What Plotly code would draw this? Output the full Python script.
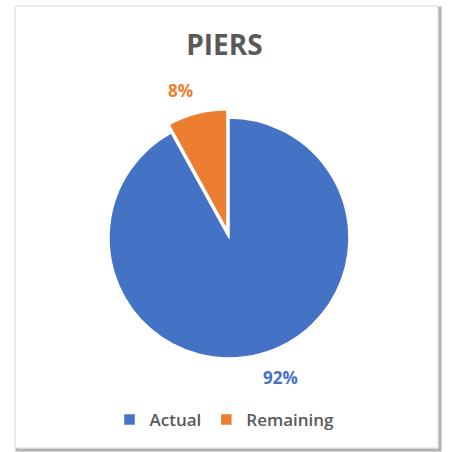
import math
import plotly.graph_objects as go

categories = ["Actual", "Remaining"]
values = [92, 8]
colors = ["#4472C4", "#ED7D31"]
pulls = [0, 0.07]
title_text = "PIERS"

W, H = 449, 452
cx, cy, r = 229, 238, 120
half = r * (1 + max(pulls))

fig = go.Figure(go.Pie(
    labels=categories,
    values=values,
    sort=False,
    direction="clockwise",
    rotation=0,
    pull=pulls,
    marker=dict(colors=colors, line=dict(color="white", width=1.5)),
    textinfo="none",
    hoverinfo="label+percent",
    domain=dict(x=[(cx - half) / W, (cx + half) / W],
                y=[(H - cy - half) / H, (H - cy + half) / H]),
    automargin=False,
))

# outside percentage labels, placed at each slice's mid-angle (Excel-style)
total = sum(values)
annotations = []
cum = 0
gap = 10
for v, c, p in zip(values, colors, pulls):
    mid = 2 * math.pi * (cum + v / 2) / total
    cum += v
    sx, sy = math.sin(mid), math.cos(mid)
    rad = r * (1 + p) + gap
    px = cx + rad * sx
    py = cy - rad * sy
    annotations.append(dict(
        x=px / W, y=1 - py / H, xref="paper", yref="paper",
        text="<b>%d%%</b>" % round(100 * v / total), showarrow=False,
        xanchor="left" if sx >= 0 else "right",
        yanchor="top" if sy < 0 else "bottom",
        font=dict(family="Open Sans", size=17, color=c),
    ))

fig.update_layout(
    width=W, height=H,
    margin=dict(l=0, r=0, t=0, b=0),
    paper_bgcolor="white",
    title=dict(text="<b>" + title_text + "</b>", x=0.5, xanchor="center",
               y=1 - 45 / H, yanchor="middle",
               font=dict(family="Open Sans", size=28, color="#595959")),
    legend=dict(orientation="h", x=0.5, xanchor="center", y=1 - 420 / H, yanchor="middle",
                font=dict(family="Open Sans", size=17, color="#595959", weight=600),
                itemwidth=30, traceorder="normal"),
    annotations=annotations,
    shapes=[
        dict(type="rect", xref="paper", yref="paper", x0=17 / W, x1=440 / W,
             y0=1 - 450 / H, y1=1 - 8 / H, line=dict(color="#B0B0B0", width=3), layer="below"),
        dict(type="rect", xref="paper", yref="paper", x0=15 / W, x1=438 / W,
             y0=1 - 448 / H, y1=1 - 6 / H, line=dict(color="#D9D9D9", width=1),
             fillcolor="white", layer="below"),
    ],
)

fig.write_html("out.html", config={"displayModeBar": False},
               post_script="document.body.style.margin='0';")
